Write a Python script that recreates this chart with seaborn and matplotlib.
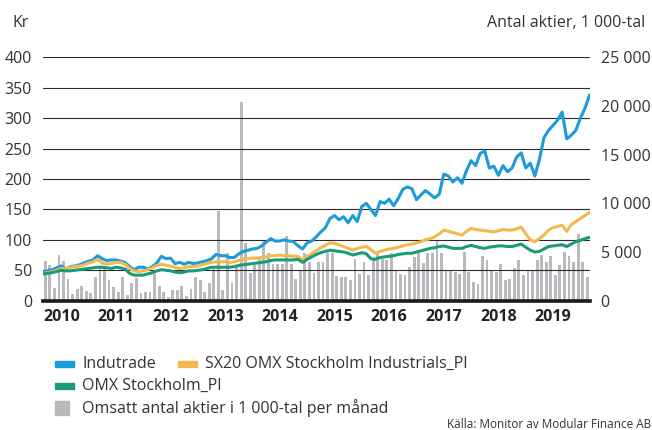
import numpy as np
import pandas as pd
import matplotlib
matplotlib.use("Agg")
import matplotlib.pyplot as plt
import seaborn as sns
from matplotlib.patches import Rectangle

# --------------------------------------------------------------------------------
# Data (monthly, Jan 2010 - Dec 2019)
# --------------------------------------------------------------------------------

years = ["2010", "2011", "2012", "2013", "2014", "2015", "2016", "2017", "2018", "2019"]

# closing level at each month boundary, kr (121 points)
indutrade = [47, 49, 51, 54, 57, 52, 56, 57, 59, 62, 65, 67,
             74, 69, 66, 67, 67, 65, 63, 56, 51, 55, 55, 52,
             56, 62, 73, 69, 70, 61, 63, 60, 63, 61, 62, 64,
             66, 69, 76, 74, 74, 71, 71, 77, 81, 83, 85, 86,
             90, 96, 102, 98, 98, 100, 98, 97, 90, 85, 95, 98,
             105, 113, 120, 135, 140, 133, 138, 128, 140, 130, 155, 160,
             150, 140, 163, 160, 167, 156, 168, 183, 187, 184, 166, 174,
             181, 175, 169, 175, 208, 205, 195, 202, 193, 214, 230, 222,
             242, 246, 218, 221, 206, 222, 212, 218, 236, 243, 218, 226,
             205, 232, 268, 280, 288, 297, 310, 266, 272, 280, 300, 316,
             338]

sx20_industrials = [45, 46, 48, 50, 53, 52, 55, 56, 57, 59, 62, 64,
                    68, 62, 60, 61, 63, 63, 60, 53, 49, 48, 49, 51,
                    54, 58, 60, 58, 57, 55, 53, 54, 56, 56, 57, 59,
                    61, 63, 64, 64, 64, 63, 64, 66, 68, 69, 70, 70,
                    71, 72, 74, 74, 75, 74, 74, 73, 73, 67, 73, 77,
                    82, 87, 91, 95, 94, 92, 89, 86, 83, 86, 88, 89,
                    84, 78, 81, 83, 85, 86, 88, 90, 92, 93, 95, 97,
                    100, 102, 105, 110, 116, 114, 112, 110, 108, 114, 119, 117,
                    116, 115, 114, 113, 115, 117, 116, 116, 118, 121, 110, 100,
                    97, 102, 108, 116, 120, 122, 124, 114, 125, 130, 135, 140,
                    145]

omx_stockholm = [44, 45, 46, 48, 50, 49, 49, 50, 51, 52, 53, 54,
                 55, 55, 54, 53, 55, 54, 52, 45, 42, 42, 42, 44,
                 46, 49, 51, 50, 49, 47, 46, 47, 49, 49, 50, 51,
                 53, 55, 55, 55, 55, 55, 56, 58, 59, 60, 61, 62,
                 63, 64, 66, 67, 67, 67, 67, 67, 68, 63, 68, 72,
                 76, 79, 81, 83, 82, 81, 80, 78, 75, 77, 79, 77,
                 69, 68, 71, 72, 73, 74, 76, 77, 78, 78, 80, 82,
                 84, 86, 87, 89, 90, 88, 86, 86, 86, 89, 91, 89,
                 87, 86, 88, 89, 90, 90, 89, 89, 91, 93, 88, 83,
                 80, 81, 85, 89, 90, 91, 92, 89, 93, 97, 99, 102,
                 104]

# traded shares per month, 1 000-tal (120 bars)
volume = [4070, 3660, 1300, 4680, 4070, 2220, 690, 1200, 1500, 1000, 800, 2430,
          3500, 3500, 2120, 1400, 890, 2430, 580, 1810, 2330, 790, 850, 920,
          2700, 1500, 920, 380, 1100, 1050, 1500, 480, 1200, 2430, 2120, 920,
          1810, 3300, 9200, 1050, 4900, 1810, 3500, 20400, 5900, 2870, 3700, 4500,
          6150, 4900, 3800, 3800, 3800, 6600, 3800, 2200, 3100, 4900, 4000, 2870,
          4000, 4000, 4900, 4900, 2500, 2400, 2400, 2150, 4300, 2700, 4000, 2600,
          4200, 4900, 4300, 4200, 4900, 3200, 2700, 2600, 3500, 4500, 4900, 3900,
          4900, 4900, 6100, 4900, 3100, 3100, 2900, 2700, 5000, 2900, 1900, 1700,
          4600, 4200, 3200, 2900, 3800, 2150, 2250, 3350, 4200, 2600, 3200, 3100,
          4200, 4700, 4000, 4600, 2600, 3700, 5000, 4600, 4000, 6800, 4000, 2400]

series_names = ["Indutrade", "SX20 OMX Stockholm Industrials_PI", "OMX Stockholm_PI"]
volume_name = "Omsatt antal aktier i 1 000-tal per månad"

colors = ["#1b9bd7", "#f4b94c", "#1a9b7b"]
bar_color = "#b9babe"
text_color = "#333333"

# --------------------------------------------------------------------------------
# Frames
# --------------------------------------------------------------------------------

month_edge = np.arange(len(indutrade))
month_mid = np.arange(len(volume)) + 0.5

df_lines = pd.DataFrame({"month": np.tile(month_edge, 3),
                         "value": indutrade + sx20_industrials + omx_stockholm,
                         "series": np.repeat(series_names, len(month_edge))})
df_bars = pd.DataFrame({"month": month_mid, "volume": volume})

# --------------------------------------------------------------------------------
# Plot
# --------------------------------------------------------------------------------

sns.set_style("white")
plt.rcParams["font.family"] = ["Open Sans", "DejaVu Sans"]

W, H = 652, 430
fig = plt.figure(figsize=(W / 100, H / 100), dpi=100)
ax = fig.add_axes([43 / W, 1 - 300.7 / H, (589.5 - 43) / W, (300.7 - 57.3) / H])
ax2 = ax.twinx()

sns.barplot(data=df_bars, x="month", y="volume", native_scale=True, width=0.62,
            color=bar_color, saturation=1, errorbar=None, linewidth=0, ax=ax2)

sns.lineplot(data=df_lines, x="month", y="value", hue="series", palette=colors,
             linewidth=2.2, legend=False, ax=ax)

# lines axis above bars axis
ax.set_zorder(ax2.get_zorder() + 1)
ax.patch.set_visible(False)

ax.set_xlim(0, 120)
ax.set_ylim(0, 400)
ax2.set_ylim(0, 25000)

ax.set_yticks(range(0, 401, 50))
ax.set_xticks(range(0, 120, 12))
ax.set_xticklabels(years, ha="left", fontweight="bold", fontsize=11.5, color="#222222")
ax.tick_params(axis="x", length=0, pad=6)
ax.tick_params(axis="y", length=0, pad=8, labelsize=11.5, labelcolor=text_color)

ax2.set_yticks(range(0, 25001, 5000))
ax2.set_yticklabels([f"{v:,}".replace(",", " ") for v in range(0, 25001, 5000)])
ax2.tick_params(axis="y", length=0, pad=8, labelsize=11.5, labelcolor=text_color)

ax.grid(axis="y", color="#2b2b2b", linewidth=0.8)
ax.grid(axis="x", visible=False)
ax.set_axisbelow(True)

ax.set_xlabel("")
ax.set_ylabel("")
ax2.set_xlabel("")
ax2.set_ylabel("")

for s in ["top", "left", "right"]:
    ax.spines[s].set_visible(False)
for s in ax2.spines.values():
    s.set_visible(False)
ax.spines["bottom"].set_color("#1a1a1a")
ax.spines["bottom"].set_linewidth(2.6)

# --------------------------------------------------------------------------------
# Texts and legend
# --------------------------------------------------------------------------------

fig.text(12 / W, 1 - 23 / H, "Kr", fontsize=11.5, color=text_color, va="center")
fig.text(645 / W, 1 - 23 / H, "Antal aktier, 1 000-tal", fontsize=11.5,
         color=text_color, va="center", ha="right")

legend_items = [(55, 364, colors[0], series_names[0], "line"),
                (178, 364, colors[1], series_names[1], "line"),
                (55, 386, colors[2], series_names[2], "line"),
                (55, 408, bar_color, volume_name, "bar")]

for x0, y0, c, label, kind in legend_items:
    if kind == "line":
        rect = Rectangle((x0 / W, 1 - (y0 + 3) / H), 19 / W, 6 / H,
                         transform=fig.transFigure, color=c)
    else:
        rect = Rectangle((x0 / W, 1 - (y0 + 7) / H), 14 / W, 14 / H,
                         transform=fig.transFigure, color=c)
    fig.add_artist(rect)
    fig.text((x0 + 27) / W, 1 - y0 / H, label, fontsize=11.5, color=text_color, va="center")

fig.text(651 / W, 1 - 424 / H, "Källa: Monitor av Modular Finance AB", fontsize=8.5,
         color=text_color, va="center", ha="right")

fig.savefig("out.png", dpi=100)
